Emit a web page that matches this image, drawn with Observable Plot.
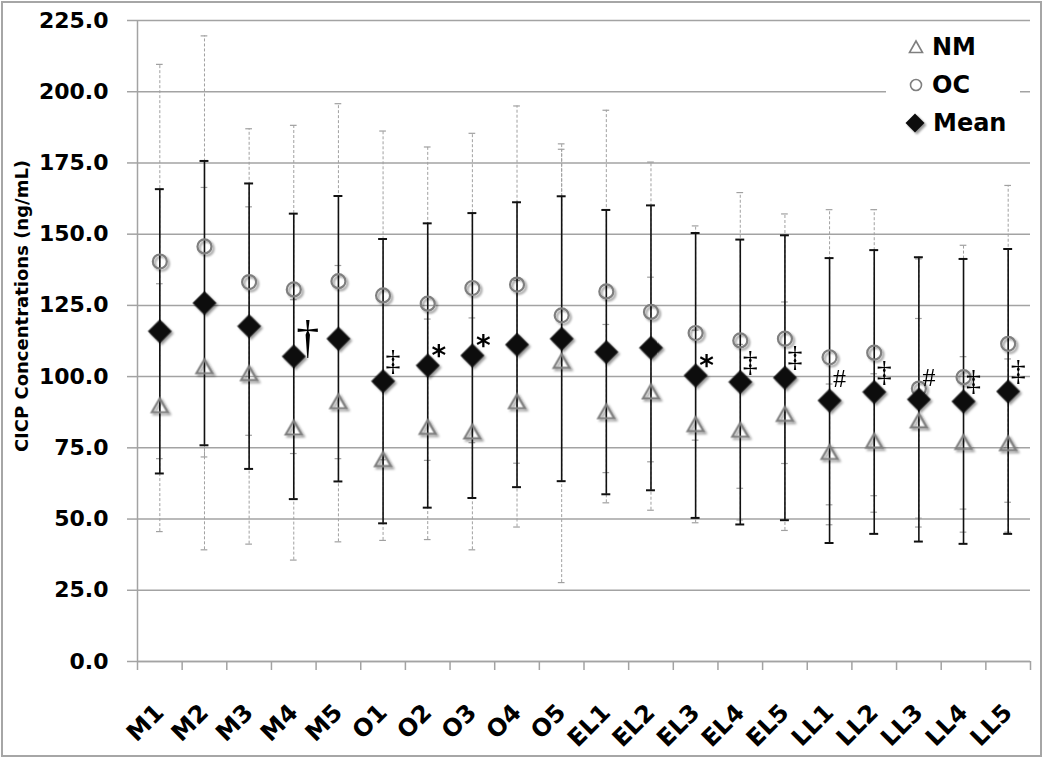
<!DOCTYPE html>
<html><head><meta charset="utf-8">
<script src="https://cdn.jsdelivr.net/npm/d3@7"></script>
<script src="https://cdn.jsdelivr.net/npm/@observablehq/plot@0.6"></script>
<style>
body{margin:0;background:#fff;}
#wrap{position:relative;width:1050px;height:758px;background:#fff;}
#frame{position:absolute;left:1px;top:1px;width:1037px;height:752px;border:2px solid #a6a6a6;pointer-events:none;}
#legend{position:absolute;left:886px;top:26px;width:134px;height:122px;background:#fff;font:bold 24px "DejaVu Sans";color:#000;}
.item{position:absolute;left:14px;height:30px;display:flex;align-items:center;}
.item svg{margin-right:8px;overflow:visible;}
</style></head><body>
<div id="wrap"><div id="chart"></div><div id="legend"></div><div id="frame"></div></div>
<script>
const categories = ["M1","M2","M3","M4","M5","O1","O2","O3","O4","O5","EL1","EL2","EL3","EL4","EL5","LL1","LL2","LL3","LL4","LL5"];
const nmValues   = [89.1,102.8,100.4,81.3,90.5,70.2,81.5,79.9,90.5,104.7,87.0,94.0,82.5,80.5,86.1,72.7,76.7,83.8,76.2,75.8];
const nmSD       = [43.5,63.6,59.2,45.7,48.5,27.7,38.7,40.7,43.3,77.0,31.3,40.9,33.8,30.8,40.1,24.7,24.3,36.6,30.8,30.4];
const ocValues   = [140.4,145.7,133.2,130.6,133.5,128.5,125.6,131.1,132.3,121.5,129.9,122.7,115.3,112.7,113.3,106.8,108.4,95.8,99.8,111.5];
const ocSD       = [69.2,73.9,53.8,57.6,62.3,57.7,55.0,54.3,62.7,58.3,63.6,52.6,37.6,51.9,43.8,51.8,50.2,45.5,46.3,55.6];
const meanValues = [115.9,125.8,117.7,107.1,113.3,98.4,103.9,107.4,111.2,113.3,108.6,110.1,100.4,98.1,99.6,91.6,94.6,92.0,91.3,94.8];
const meanSD     = [49.9,49.9,50.1,50.1,50.1,49.9,49.9,50.0,50.0,50.0,49.9,50.0,50.0,50.0,50.0,50.0,49.8,49.9,50.0,50.0];
const yTicks = [0,25,50,75,100,125,150,175,200,225];
const annotations = [
  {cat:"M4",sym:"†"},{cat:"O1",sym:"‡"},{cat:"O2",sym:"*"},{cat:"O3",sym:"*"},
  {cat:"EL3",sym:"*"},{cat:"EL4",sym:"‡"},{cat:"EL5",sym:"‡"},{cat:"LL1",sym:"#"},
  {cat:"LL2",sym:"‡"},{cat:"LL3",sym:"#"},{cat:"LL4",sym:"‡"},{cat:"LL5",sym:"‡"}
];
const yTitle = "CICP Concentrations (ng/mL)";

const data = categories.map((c,i)=>({cat:c,x:i+0.5,nm:nmValues[i],nmSD:nmSD[i],oc:ocValues[i],ocSD:ocSD[i],mean:meanValues[i],meanSD:meanSD[i]}));
const ann = annotations.map(a=>{const i=categories.indexOf(a.cat);return {...a,x:i+0.5,y:meanValues[i]};});
const annOf = s => ann.filter(a=>a.sym===s);

const gridC = "#a3a3a3", markC = "#7f7f7f", errC = "#a0a0a0";
const capW = 0.075, mCapW = 0.1;

const plot = Plot.plot({
  width:1050, height:758, marginTop:20, marginBottom:97, marginLeft:137, marginRight:20,
  x:{type:"linear", domain:[0,20]},
  y:{domain:[0,225]},
  style:{fontFamily:"DejaVu Sans", fontWeight:"bold", color:"#000", background:"#fff"},
  marks:[
    Plot.gridY({ticks:yTicks, stroke:gridC, strokeOpacity:1, strokeWidth:1.5}),
    Plot.axisY({ticks:yTicks, tickSize:10, tickPadding:19, tickFormat:d=>d.toFixed(1), fontSize:22, stroke:gridC, strokeWidth:1.5, fill:"#000", label:null}),
    Plot.ruleX([0], {stroke:gridC, strokeWidth:1.5}),
    Plot.ruleY([0], {stroke:gridC, strokeWidth:1.5}),
    Plot.axisX({ticks:d3.range(0,21), tickSize:9, tickFormat:()=>"", stroke:gridC, strokeWidth:1.5, label:null}),
    Plot.axisX({ticks:data.map(d=>d.x), tickSize:0, tickRotate:-45, tickPadding:47, tickFormat:v=>categories[Math.floor(v)], fontSize:24, fill:"#000", label:null}),
    // NM and OC error bars (dashed gray)
    Plot.ruleX(data, {x:"x", y1:d=>d.nm-d.nmSD, y2:d=>d.nm+d.nmSD, stroke:errC, strokeWidth:1, strokeDasharray:"3,2"}),
    Plot.ruleX(data, {x:"x", y1:d=>d.oc-d.ocSD, y2:d=>d.oc+d.ocSD, stroke:errC, strokeWidth:1, strokeDasharray:"3,2"}),
    Plot.ruleY(data, {y:d=>d.nm-d.nmSD, x1:d=>d.x-capW, x2:d=>d.x+capW, stroke:errC, strokeWidth:1.2}),
    Plot.ruleY(data, {y:d=>d.nm+d.nmSD, x1:d=>d.x-capW, x2:d=>d.x+capW, stroke:errC, strokeWidth:1.2}),
    Plot.ruleY(data, {y:d=>d.oc-d.ocSD, x1:d=>d.x-capW, x2:d=>d.x+capW, stroke:errC, strokeWidth:1.2}),
    Plot.ruleY(data, {y:d=>d.oc+d.ocSD, x1:d=>d.x-capW, x2:d=>d.x+capW, stroke:errC, strokeWidth:1.2}),
    // Mean error bars (solid black)
    Plot.ruleX(data, {x:"x", y1:d=>d.mean-d.meanSD, y2:d=>d.mean+d.meanSD, stroke:"#111", strokeWidth:1.6}),
    Plot.ruleY(data, {y:d=>d.mean-d.meanSD, x1:d=>d.x-mCapW, x2:d=>d.x+mCapW, stroke:"#111", strokeWidth:2}),
    Plot.ruleY(data, {y:d=>d.mean+d.meanSD, x1:d=>d.x-mCapW, x2:d=>d.x+mCapW, stroke:"#111", strokeWidth:2}),
    // markers
    Plot.dot(data, {x:"x", y:"nm", symbol:"triangle2", r:7.6, stroke:markC, strokeWidth:2.2, fill:"none"}),
    Plot.dot(data, {x:"x", y:"oc", symbol:"circle", r:7, stroke:markC, strokeWidth:2.2, fill:"none"}),
    Plot.dot(data, {x:"x", y:"mean", symbol:"diamond2", r:10.5, fill:"#111", stroke:"#000", strokeWidth:0.5}),
    // significance marks
    Plot.text(annOf("†"), {x:"x", y:"y", text:"sym", dx:14, dy:-18, fontFamily:"Liberation Serif", fontWeight:"normal", fontSize:46, fill:"#000"}),
    Plot.text(annOf("‡"), {x:"x", y:"y", text:"sym", dx:10, dy:-21, fontFamily:"Liberation Serif", fontWeight:"normal", fontSize:30, fill:"#000"}),
    Plot.text(annOf("#"), {x:"x", y:"y", text:"sym", dx:10, dy:-22, fontFamily:"Liberation Serif", fontWeight:"normal", fontSize:26, fill:"#000"}),
    Plot.text(annOf("*"), {x:"x", y:"y", text:"sym", dx:11, dy:-9, fontFamily:"DejaVu Sans", fontWeight:"bold", fontSize:28, fill:"#000"})
  ]
});

const svg = d3.select(plot);
// drop shadows on markers
const defs = svg.insert("defs", ":first-child");
const f = defs.append("filter").attr("id","shadow").attr("x","-50%").attr("y","-50%").attr("width","200%").attr("height","200%");
f.append("feDropShadow").attr("dx",2).attr("dy",2).attr("stdDeviation",1.3).attr("flood-color","#000").attr("flood-opacity",0.4);
svg.selectAll('g[aria-label="dot"]').attr("filter","url(#shadow)");

// y axis title
svg.append("text").attr("transform","translate(23,306) rotate(-90)").attr("text-anchor","middle").attr("dominant-baseline","middle")
  .attr("font-family","DejaVu Sans").attr("font-weight","bold").attr("font-size",18).attr("fill","#000").text(yTitle);

document.getElementById("chart").appendChild(plot);

// legend
const legendItems = [
  {label:"NM", svg:'<svg width="16" height="14" viewBox="-8 -7 16 14"><path d="M0,-6L6.5,5.5L-6.5,5.5Z" fill="none" stroke="#7f7f7f" stroke-width="1.6"/></svg>'},
  {label:"OC", svg:'<svg width="16" height="14" viewBox="-8 -7 16 14"><circle r="5.5" fill="none" stroke="#7f7f7f" stroke-width="1.6"/></svg>'},
  {label:"Mean", svg:'<svg width="20" height="20" viewBox="-10 -10 20 20"><path d="M0,-9.5L9.5,0L0,9.5L-9.5,0Z" fill="#111" filter="url(#shadow)"/></svg>'}
];
const leg = document.getElementById("legend");
legendItems.forEach((it,k)=>{
  const d = document.createElement("div");
  d.className = "item";
  d.style.top = (6 + k*38) + "px";
  d.style.left = (k===2 ? 19 : 22) + "px";
  d.innerHTML = it.svg + "<span>" + it.label + "</span>";
  leg.appendChild(d);
});
</script>
</body></html>
